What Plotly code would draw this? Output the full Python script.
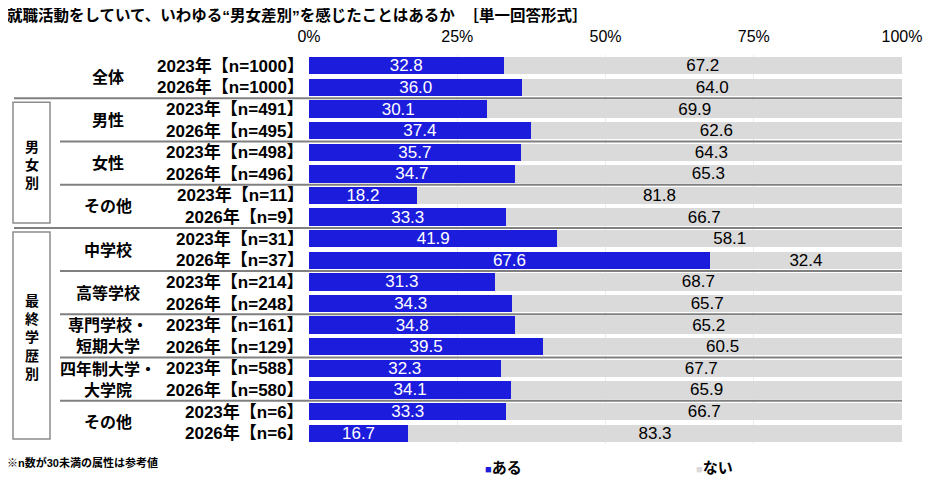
import plotly.graph_objects as go

# data
row_labels = ["2023年【n=1000】", "2026年【n=1000】",
              "2023年【n=491】", "2026年【n=495】",
              "2023年【n=498】", "2026年【n=496】",
              "2023年【n=11】", "2026年【n=9】",
              "2023年【n=31】", "2026年【n=37】",
              "2023年【n=214】", "2026年【n=248】",
              "2023年【n=161】", "2026年【n=129】",
              "2023年【n=588】", "2026年【n=580】",
              "2023年【n=6】", "2026年【n=6】"]
categories = ["全体", "男性", "女性", "その他", "中学校", "高等学校",
              "専門学校・<br>短期大学", "四年制大学・<br>大学院", "その他"]
aru = [32.8, 36.0, 30.1, 37.4, 35.7, 34.7, 18.2, 33.3, 41.9,
       67.6, 31.3, 34.3, 34.8, 39.5, 32.3, 34.1, 33.3, 16.7]
nai = [67.2, 64.0, 69.9, 62.6, 64.3, 65.3, 81.8, 66.7, 58.1,
       32.4, 68.7, 65.7, 65.2, 60.5, 67.7, 65.9, 66.7, 83.3]
groups = [("男女別", 1, 4), ("最終学歴別", 4, 9)]  # (label, first category, end category)
x_ticks = [0, 25, 50, 75, 100]

BLUE = "#1c1cdc"
GRAY = "#dadada"
JP = "Liberation Sans, Noto Sans CJK JP, sans-serif"

# page is 940x481, the html body keeps an 8px margin
OFF = 8
W_FIG, H_FIG = 940 - OFF, 481 - OFF
L, R, T, B = 309, 38, 55, 37   # plot area edges in page pixels
PW = 940 - L - R
PH = 481 - T - B
n = len(row_labels)


def px(x):
    return (x - L) / PW


def py(y):
    return 1 - (y - T) / PH


rows = list(range(n))

fig = go.Figure()
fig.add_trace(go.Bar(
    y=rows, x=aru, orientation="h", name="ある",
    marker=dict(color=BLUE, line=dict(width=0)),
    texttemplate="%{x:.1f}", textposition="inside", insidetextanchor="middle",
    constraintext="none", cliponaxis=False,
    textfont=dict(color="white", size=17, family=JP), textangle=0,
))
fig.add_trace(go.Bar(
    y=rows, x=nai, orientation="h", name="ない",
    marker=dict(color=GRAY, line=dict(width=0)),
    texttemplate="%{x:.1f}", textposition="inside", insidetextanchor="middle",
    constraintext="none", cliponaxis=False,
    textfont=dict(color="black", size=17, family=JP), textangle=0,
))

ann = []
# row labels
for i, lab in enumerate(row_labels):
    ann.append(dict(x=px(306), y=i, xref="paper", yref="y", text="<b>%s</b>" % lab,
                    xanchor="right", yanchor="middle", showarrow=False,
                    font=dict(size=17, family=JP, color="black")))
# category labels
for j, cat in enumerate(categories):
    ann.append(dict(x=px(108), y=2 * j + 0.5, xref="paper", yref="y", text="<b>%s</b>" % cat,
                    xanchor="center", yanchor="middle", showarrow=False,
                    font=dict(size=16, family=JP, color="black")))

shapes = []
# separators between categories
for j in range(1, len(categories)):
    k = 2 * j
    start = 60
    if any(j == g[1] or j == g[2] for g in groups):
        start = 14
    shapes.append(dict(type="line", xref="paper", yref="paper",
                       x0=px(start), x1=1.0, y0=1 - k / n, y1=1 - k / n,
                       line=dict(color="#808080", width=2)))

# group boxes and vertical labels
for lab, c0, c1 in groups:
    y_top = T + 2 * c0 * PH / n + 4
    y_bot = T + 2 * c1 * PH / n - 5
    shapes.append(dict(type="rect", xref="paper", yref="paper",
                       x0=px(13), x1=px(50), y0=py(y_bot), y1=py(y_top),
                       line=dict(color="#8c8c8c", width=1.5)))
    ann.append(dict(x=px(31.5), y=py((y_top + y_bot) / 2 + 2), xref="paper", yref="paper",
                    text="<b>" + "<br>".join(lab) + "</b>", showarrow=False,
                    xanchor="center", yanchor="middle",
                    font=dict(size=14, family=JP, color="black")))

# title
ann.append(dict(x=px(5), y=py(15), xref="paper", yref="paper",
                text="<b>就職活動をしていて、いわゆる“男女差別”を感じたことはあるか  ［単一回答形式］</b>",
                xanchor="left", yanchor="middle", showarrow=False,
                font=dict(size=15.5, family=JP, color="black")))
# footnote
ann.append(dict(x=px(5), y=py(462), xref="paper", yref="paper",
                text="<b>※n数が30未満の属性は参考値</b>",
                xanchor="left", yanchor="middle", showarrow=False,
                font=dict(size=11, family=JP, color="black")))
# legend
for name, col, xl in [("ある", BLUE, 483), ("ない", GRAY, 694)]:
    ann.append(dict(x=px(xl), y=py(467), xref="paper", yref="paper",
                    text="<span style='color:%s;font-size:11px'>■</span><b>%s</b>" % (col, name),
                    xanchor="left", yanchor="middle", showarrow=False,
                    font=dict(size=15, family=JP, color="black")))

fig.update_layout(
    width=W_FIG, height=H_FIG,
    margin=dict(l=L - OFF, r=R, t=T - OFF, b=B),
    barmode="stack", bargap=0.2,
    plot_bgcolor="white", paper_bgcolor="white",
    showlegend=False,
    annotations=ann, shapes=shapes,
)
fig.update_xaxes(range=[0, 100], side="top", tickvals=x_ticks,
                 ticktext=["%d%%" % v for v in x_ticks],
                 showgrid=True, gridcolor="#ececec", zeroline=False,
                 ticks="outside", ticklen=6, tickcolor="white",
                 tickfont=dict(size=16, family=JP, color="black"), fixedrange=True)
fig.update_yaxes(range=[n - 0.5, -0.5], showticklabels=False, showgrid=False,
                 zeroline=False, fixedrange=True)

fig.write_html("out.html")
